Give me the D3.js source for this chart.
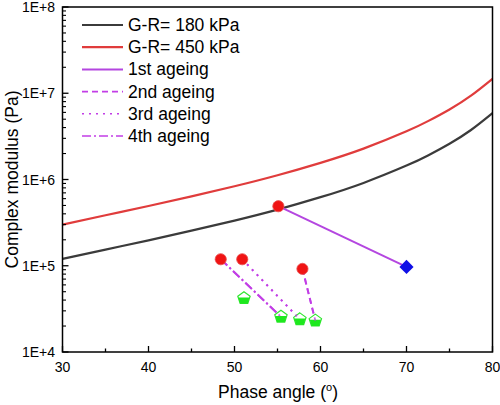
<!DOCTYPE html>
<html>
<head>
<meta charset="utf-8">
<script src="https://cdn.jsdelivr.net/npm/d3@7/dist/d3.min.js"></script>
<style>
  html, body { margin: 0; padding: 0; background: #fff; }
  svg { display: block; font-family: "Liberation Sans", Arial, sans-serif; }
</style>
</head>
<body>
<svg id="chart" width="500" height="405"></svg>
<script>
// ---- data ----
const phaseAngles = [30, 35, 40, 45, 50, 55, 60, 65, 70, 72.5, 75, 77.5, 80];
const gr180 = [1.20e5, 1.54e5, 1.97e5, 2.55e5, 3.34e5, 4.48e5, 6.24e5, 9.13e5, 1.45e6, 1.90e6, 2.60e6, 3.75e6, 5.88e6];
const gr450 = [3.00e5, 3.85e5, 4.93e5, 6.37e5, 8.34e5, 1.12e6, 1.56e6, 2.28e6, 3.62e6, 4.75e6, 6.49e6, 9.38e6, 1.47e7];

const ageingNames = ["1st ageing", "2nd ageing", "3rd ageing", "4th ageing"];
const beforeAngle = [55.1, 57.9, 50.9, 48.4];
const beforeModulus = [4.9e5, 9.2e4, 1.19e5, 1.19e5];
const afterAngle = [70.0, 59.4, 57.6, 55.4];
const afterModulus = [9.7e4, 2.31e4, 2.39e4, 2.56e4];
const extraAngle = [51.1];
const extraModulus = [4.2e4];

const xTicks = [30, 40, 50, 60, 70, 80];
const xMinorTicks = [35, 45, 55, 65, 75];
const yTicks = [1e4, 1e5, 1e6, 1e7, 1e8];
const yTickLabels = ["1E+4", "1E+5", "1E+6", "1E+7", "1E+8"];

// ---- layout ----
const svg = d3.select("#chart");
const L = 62.5, R = 492.5, T = 7, B = 352;
const x = d3.scaleLinear().domain([30, 80]).range([L, R]);
const y = d3.scaleLog().domain([1e4, 1e8]).range([B, T]);

const purple = "#b446e0";
const purple2 = "#c23ee6";
const styles = [
  { color: purple, dash: null },
  { color: purple2, dash: "6,4" },
  { color: purple2, dash: "2,5" },
  { color: purple2, dash: "9,3,2,3" }
];

// curves
const line = d3.line().x(d => x(d[0])).y(d => y(d[1])).curve(d3.curveNatural);
svg.append("path").datum(phaseAngles.map((a, i) => [a, gr180[i]]))
  .attr("d", line).attr("fill", "none").attr("stroke", "#3b3b3b").attr("stroke-width", 2.2);
svg.append("path").datum(phaseAngles.map((a, i) => [a, gr450[i]]))
  .attr("d", line).attr("fill", "none").attr("stroke", "#e03c3c").attr("stroke-width", 2.2);

// ageing connection lines
ageingNames.forEach((n, i) => {
  svg.append("line")
    .attr("x1", x(beforeAngle[i])).attr("y1", y(beforeModulus[i]))
    .attr("x2", x(afterAngle[i])).attr("y2", y(afterModulus[i]))
    .attr("stroke", styles[i].color).attr("stroke-width", 2)
    .attr("stroke-dasharray", styles[i].dash);
});

// pentagon helper
function pent(cx, cy, r) {
  const pts = [];
  for (let k = 0; k < 5; k++) {
    const a = -Math.PI / 2 + k * 2 * Math.PI / 5;
    pts.push([cx + r * Math.cos(a), cy + r * Math.sin(a)]);
  }
  return pts;
}
function drawPentagon(cx, cy) {
  const r = 6.5;
  const p = pent(cx, cy, r);
  svg.append("polygon").attr("points", p.map(d => d.join(",")).join(" "))
    .attr("fill", "#fff").attr("stroke", "#2ee62e").attr("stroke-width", 1.2);
  const yShift = 1.2;
  svg.append("polygon")
    .attr("points", [[p[1][0] - 0.6, p[1][1] + yShift], p[2], p[3], [p[4][0] + 0.6, p[4][1] + yShift]].map(d => d.join(",")).join(" "))
    .attr("fill", "#1ee81e");
}

// after markers
afterAngle.forEach((a, i) => {
  if (i === 0) {
    svg.append("path").attr("d", d3.symbol(d3.symbolSquare, 100)())
      .attr("transform", `translate(${x(a)},${y(afterModulus[i])}) rotate(45)`)
      .attr("fill", "#1010e6");
  } else {
    drawPentagon(x(a), y(afterModulus[i]));
  }
});
extraAngle.forEach((a, i) => drawPentagon(x(a), y(extraModulus[i])));

// purple lines visible over pentagons
ageingNames.forEach((n, i) => {
  if (i === 0) return;
  svg.append("line")
    .attr("x1", x(beforeAngle[i])).attr("y1", y(beforeModulus[i]))
    .attr("x2", x(afterAngle[i])).attr("y2", y(afterModulus[i]))
    .attr("stroke", styles[i].color).attr("stroke-width", 1.8)
    .attr("stroke-dasharray", styles[i].dash).attr("opacity", 0.8);
});

// before markers (red circles)
beforeAngle.forEach((a, i) => {
  svg.append("circle").attr("cx", x(a)).attr("cy", y(beforeModulus[i])).attr("r", 5.6)
    .attr("fill", "#f01414").attr("stroke", "#e85050").attr("stroke-width", 0.8);
});

// ---- axes frame ----
svg.append("rect").attr("x", L).attr("y", T).attr("width", R - L).attr("height", B - T)
  .attr("fill", "none").attr("stroke", "#000").attr("stroke-width", 1.5);

// x ticks (inside)
const gx = svg.append("g");
xTicks.forEach(t => {
  gx.append("line").attr("x1", x(t)).attr("x2", x(t)).attr("y1", B).attr("y2", B - 6)
    .attr("stroke", "#000").attr("stroke-width", 1.3);
  gx.append("text").attr("x", x(t)).attr("y", B + 20).attr("text-anchor", "middle")
    .attr("font-size", 14).text(t);
});
xMinorTicks.forEach(t => {
  gx.append("line").attr("x1", x(t)).attr("x2", x(t)).attr("y1", B).attr("y2", B - 3.5)
    .attr("stroke", "#000").attr("stroke-width", 1.3);
});

// y ticks (inside)
const gy = svg.append("g");
yTicks.forEach((t, i) => {
  gy.append("line").attr("x1", L).attr("x2", L + 6).attr("y1", y(t)).attr("y2", y(t))
    .attr("stroke", "#000").attr("stroke-width", 1.3);
  gy.append("text").attr("x", 55).attr("y", y(t) + 5).attr("text-anchor", "end")
    .attr("font-size", 14).text(yTickLabels[i]);
  if (i < yTicks.length - 1) {
    for (let m = 2; m <= 9; m++) {
      gy.append("line").attr("x1", L).attr("x2", L + 3.5).attr("y1", y(t * m)).attr("y2", y(t * m))
        .attr("stroke", "#000").attr("stroke-width", 1.1);
    }
  }
});

// axis titles
const xt = svg.append("text").attr("x", 278).attr("y", 398).attr("text-anchor", "middle").attr("font-size", 17.5);
xt.append("tspan").text("Phase angle (");
xt.append("tspan").attr("font-size", 11).attr("dy", -7).text("o");
xt.append("tspan").attr("dy", 7).text(")");

svg.append("text").attr("transform", `translate(18,${(T + B) / 2}) rotate(-90)`)
  .attr("text-anchor", "middle").attr("font-size", 17.5).text("Complex modulus (Pa)");

// ---- legend ----
const legendItems = [
  { label: "G-R= 180 kPa", color: "#3b3b3b", dash: null, w: 2.2 },
  { label: "G-R= 450 kPa", color: "#e03c3c", dash: null, w: 2.2 },
  { label: ageingNames[0], color: styles[0].color, dash: styles[0].dash, w: 2 },
  { label: ageingNames[1], color: styles[1].color, dash: styles[1].dash, w: 1.6 },
  { label: ageingNames[2], color: styles[2].color, dash: styles[2].dash, w: 1.6 },
  { label: ageingNames[3], color: styles[3].color, dash: styles[3].dash, w: 1.6 }
];
legendItems.forEach((d, i) => {
  const yy = 25 + i * 22.2;
  svg.append("line").attr("x1", 82).attr("x2", 123).attr("y1", yy).attr("y2", yy)
    .attr("stroke", d.color).attr("stroke-width", d.w).attr("stroke-dasharray", d.dash);
  svg.append("text").attr("x", 128).attr("y", yy + 6).attr("font-size", 17.5).text(d.label);
});
</script>
</body>
</html>
